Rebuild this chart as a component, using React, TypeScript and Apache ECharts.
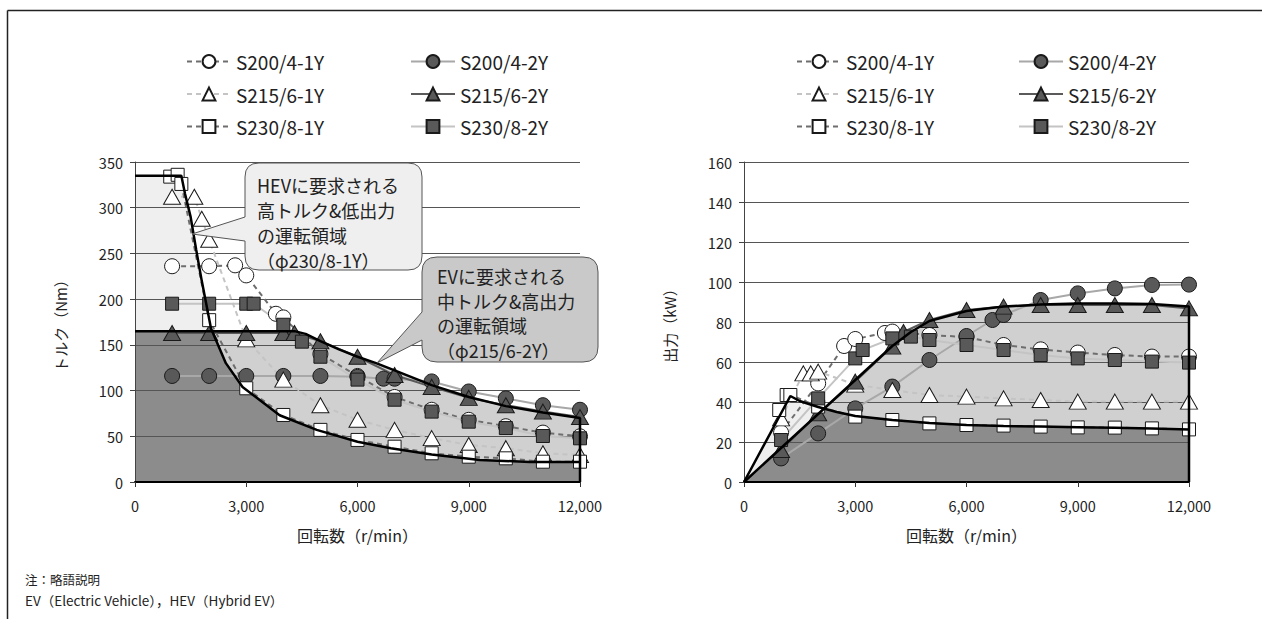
import React, { useEffect, useRef } from "react";
import * as echarts from "echarts";

const FONT = "'Noto Sans CJK JP', 'Noto Sans', sans-serif";

// ---- tick / axis settings ----
const rpmTicks = [0, 3000, 6000, 9000, 12000];
const torqueMax = 350;
const powerMax = 160;

// ---- series names ----
const names = ["S200/4-1Y", "S200/4-2Y", "S215/6-1Y", "S215/6-2Y", "S230/8-1Y", "S230/8-2Y"];

// ---- S200/4-1Y ----
const s200_1Y_rpm = [1000, 2000, 2700, 3000, 3800, 4000, 5000, 6000, 7000, 8000, 9000, 10000, 11000, 12000];
const s200_1Y_torque = [236, 236, 237, 226, 184, 180, 140, 116, 93, 79, 68, 61, 54, 50];
const s200_1Y_power = [24.7, 49.3, 68, 71.5, 74.5, 75.2, 73.5, 72.5, 68.5, 66.3, 64.7, 63.5, 62.7, 62.7];

// ---- S200/4-2Y ----
const s200_2Y_rpm = [1000, 2000, 3000, 4000, 5000, 6000, 6700, 7000, 8000, 9000, 10000, 11000, 12000];
const s200_2Y_torque = [116, 116, 116, 116, 116, 115, 113, 113, 110, 99, 91.5, 84, 79];
const s200_2Y_power = [11.8, 24.3, 36.8, 47.7, 61, 73, 81, 83.5, 91, 94.3, 96.8, 98.5, 98.7];

// ---- S215/6-1Y ----
const s215_1Y_rpm = [1000, 1600, 1800, 2000, 3000, 4000, 5000, 6000, 7000, 8000, 9000, 10000, 11000, 12000];
const s215_1Y_torque = [312, 312, 288, 265, 156, 112, 84, 68, 57, 48, 40.5, 37, 31.5, 29.5];
const s215_1Y_power = [31.8, 54.3, 54.3, 55.2, 48.7, 46, 43.5, 42.7, 41.8, 41, 40.2, 40.2, 40.2, 40.2];

// ---- S215/6-2Y ----
const s215_2Y_rpm = [1000, 2000, 3000, 4000, 4300, 5000, 6000, 7000, 8000, 9000, 10000, 11000, 12000];
const s215_2Y_torque = [163, 163, 163, 163, 163, 154, 137, 117, 104, 92, 84, 77, 71];
const s215_2Y_power = [16, 34.3, 50.2, 67.7, 75, 81, 86, 87.7, 88.5, 88.5, 88.5, 88.5, 86.8];

// ---- S230/8-1Y ----
const s230_1Y_rpm = [950, 1150, 1250, 2000, 3000, 4000, 5000, 6000, 7000, 8000, 9000, 10000, 11000, 12000];
const s230_1Y_torque = [334, 336, 326, 177, 102.5, 73.3, 57, 46, 38.6, 31.4, 27.7, 25.9, 22.2, 22.2];
const s230_1Y_power = [36, 43.5, 43.5, 37.7, 32.7, 31, 29.3, 28.5, 28.2, 27.7, 27.3, 27.2, 26.8, 26.3];

// ---- S230/8-2Y ----
const s230_2Y_rpm = [1000, 2000, 3000, 3200, 4000, 4500, 5000, 6000, 7000, 8000, 9000, 10000, 11000, 12000];
const s230_2Y_torque = [195, 195, 195, 195, 172, 153.5, 137, 112, 90, 77, 66, 59, 50.3, 47.8];
const s230_2Y_power = [21, 41.8, 61.8, 66, 71.8, 72.7, 71, 68.5, 66, 63.5, 61.8, 61, 60.2, 59.7];

// ---- operating-region envelopes (torque chart) ----
const hevTorqueRpm = [0, 1250, 1350, 1500, 1650, 1800, 2050, 2450, 2900, 3900, 4900, 6000, 6900, 8000, 9300, 10650, 12000];
const hevTorque = [335, 335, 315, 290, 254, 220, 168, 130, 104, 73, 57, 44, 37, 30, 24, 22, 22];
const evTorqueRpm = [0, 4300, 4600, 5000, 5500, 6000, 6500, 7000, 8000, 9000, 10000, 11000, 12000, 12000];
const evTorque = [165, 165, 162, 154, 145, 137, 130, 122, 106, 93, 83, 76, 70, 0];
const bothTorqueRpm = [0, 2080, 2450, 2900, 3900, 4900, 6000, 6900, 8000, 9300, 10650, 12000];
const bothTorque = [165, 165, 130, 104, 73, 57, 44, 37, 30, 24, 22, 22];

// ---- operating-region envelopes (power chart) ----
const hevPowerRpm = [0, 1250, 1500, 2000, 2500, 3000, 4000, 5000, 6000, 7000, 8000, 9000, 10000, 11000, 12000];
const hevPower = [0, 43, 40.5, 37.5, 35, 33, 31, 29.5, 28.5, 28, 27.7, 27.4, 27.1, 26.8, 26.3];
const evPowerRpm = [0, 1000, 2000, 3000, 4000, 4500, 5000, 6000, 7000, 8000, 9000, 10000, 11000, 12000, 12000];
const evPower = [0, 17, 34, 51, 68, 75, 80.5, 85.5, 87.7, 88.7, 89.2, 89.3, 89, 87.7, 0];
const bothPowerRpm = [0, 2150, 2500, 3000, 4000, 5000, 6000, 7000, 8000, 9000, 10000, 11000, 12000];
const bothPower = [0, 36.8, 35, 33, 31, 29.5, 28.5, 28, 27.7, 27.4, 27.1, 26.8, 26.3];

const pairs = (xs: number[], ys: number[]) => xs.map((x, i) => [x, ys[i]]);

// speech-bubble outlines for the annotations
echarts.graphic.registerShape(
  "hevBubble",
  echarts.graphic.extendPath(
    "M259,163 H408 Q422,163 422,177 V256 Q422,270 408,270 H259 Q245,270 245,256 V241 L192,234 L245,217 V177 Q245,163 259,163 Z",
    {}
  )
);
echarts.graphic.registerShape(
  "evBubble",
  echarts.graphic.extendPath(
    "M437,257 H583 Q598,257 598,272 V347 Q598,362 583,362 H437 Q422,362 422,347 V340 L377,363 L422,312 V272 Q422,257 437,257 Z",
    {}
  )
);

const DARK = "#595959";

const styles: Record<string, any> = {
  "S200/4-1Y": { symbol: "circle", symbolSize: 15, fill: "#ffffff", line: { color: "#6e6e6e", type: [5, 4], width: 2 } },
  "S200/4-2Y": { symbol: "circle", symbolSize: 15, fill: DARK, line: { color: "#a8a8a8", type: "solid", width: 2 } },
  "S215/6-1Y": { symbol: "triangle", symbolSize: [17, 15], fill: "#ffffff", line: { color: "#c4c4c4", type: [5, 4], width: 2 } },
  "S215/6-2Y": { symbol: "triangle", symbolSize: [17, 15], fill: DARK, line: { color: "#5a5a5a", type: "solid", width: 2 } },
  "S230/8-1Y": { symbol: "rect", symbolSize: 13, fill: "#ffffff", line: { color: "#6e6e6e", type: [5, 4], width: 2 } },
  "S230/8-2Y": { symbol: "rect", symbolSize: 13, fill: DARK, line: { color: "#c4c4c4", type: "solid", width: 2 } },
};

const torqueData: Record<string, number[][]> = {
  "S200/4-1Y": pairs(s200_1Y_rpm, s200_1Y_torque),
  "S200/4-2Y": pairs(s200_2Y_rpm, s200_2Y_torque),
  "S215/6-1Y": pairs(s215_1Y_rpm, s215_1Y_torque),
  "S215/6-2Y": pairs(s215_2Y_rpm, s215_2Y_torque),
  "S230/8-1Y": pairs(s230_1Y_rpm, s230_1Y_torque),
  "S230/8-2Y": pairs(s230_2Y_rpm, s230_2Y_torque),
};
const powerData: Record<string, number[][]> = {
  "S200/4-1Y": pairs(s200_1Y_rpm, s200_1Y_power),
  "S200/4-2Y": pairs(s200_2Y_rpm, s200_2Y_power),
  "S215/6-1Y": pairs(s215_1Y_rpm, s215_1Y_power),
  "S215/6-2Y": pairs(s215_2Y_rpm, s215_2Y_power),
  "S230/8-1Y": pairs(s230_1Y_rpm, s230_1Y_power),
  "S230/8-2Y": pairs(s230_2Y_rpm, s230_2Y_power),
};

function markerSeries(name: string, data: number[][], idx: number) {
  const s = styles[name];
  return {
    type: "line",
    name,
    xAxisIndex: idx,
    yAxisIndex: idx,
    data,
    symbol: s.symbol,
    symbolSize: s.symbolSize,
    showSymbol: true,
    lineStyle: s.line,
    itemStyle: { color: s.fill, borderColor: "#1a1a1a", borderWidth: 1 },
    z: 3,
    silent: true,
  };
}

function areaSeries(data: number[][], idx: number, color: string, z: number) {
  return {
    type: "line",
    xAxisIndex: idx,
    yAxisIndex: idx,
    data,
    symbol: "none",
    lineStyle: { opacity: 0, width: 0 },
    areaStyle: { color, opacity: 1 },
    z,
    silent: true,
  };
}

function edgeSeries(data: number[][], idx: number) {
  return {
    type: "line",
    xAxisIndex: idx,
    yAxisIndex: idx,
    data,
    symbol: "none",
    lineStyle: { color: "#000000", width: 2.5 },
    z: 4,
    silent: true,
  };
}

const fmt = (v: number) => v.toLocaleString("en-US");

function xAxis(idx: number) {
  return {
    type: "value",
    gridIndex: idx,
    min: rpmTicks[0],
    max: rpmTicks[rpmTicks.length - 1],
    interval: rpmTicks[1] - rpmTicks[0],
    name: "回転数（r/min）",
    nameLocation: "middle",
    nameGap: 45,
    nameTextStyle: { fontFamily: FONT, fontSize: 16, color: "#222" },
    axisLine: { show: true, lineStyle: { color: "#000", width: 2 } },
    axisTick: { show: true, length: 5, lineStyle: { color: "#333", width: 1 } },
    axisLabel: { fontFamily: FONT, fontSize: 14.5, color: "#222", margin: 16, formatter: fmt },
    splitLine: { show: false },
    z: 2,
  };
}

function yAxis(idx: number, max: number, interval: number, name: string) {
  return {
    type: "value",
    gridIndex: idx,
    min: 0,
    max,
    interval,
    name,
    nameLocation: "middle",
    nameGap: 67,
    nameTextStyle: { fontFamily: FONT, fontSize: 15, color: "#222" },
    axisLine: { show: true, lineStyle: { color: "#444", width: 1 } },
    axisTick: { show: true, length: 5, lineStyle: { color: "#444", width: 1 } },
    axisLabel: { fontFamily: FONT, fontSize: 14.5, color: "#222", margin: 12 },
    splitLine: { show: true, lineStyle: { color: "#555", width: 1 } },
    z: 2,
  };
}

function legend(left: number, data: string[]) {
  return {
    data,
    orient: "vertical",
    left,
    top: 47,
    itemWidth: 44,
    itemHeight: 16,
    itemGap: 13.5,
    selectedMode: false,
    textStyle: { fontFamily: FONT, fontSize: 19, color: "#222", padding: [0, 0, 0, 0] },
  };
}

export default function App() {
  const ref = useRef<HTMLDivElement>(null);

  useEffect(() => {
    if (!ref.current) return;
    const chart = echarts.init(ref.current, undefined, { renderer: "svg" });
    const col1 = [names[0], names[2], names[4]];
    const col2 = [names[1], names[3], names[5]];

    const series: any[] = [
      areaSeries(pairs(hevTorqueRpm, hevTorque), 0, "#efefef", 1),
      areaSeries(pairs(evTorqueRpm, evTorque), 0, "#d0d0d0", 1),
      areaSeries(pairs(bothTorqueRpm, bothTorque), 0, "#8c8c8c", 1),
      areaSeries(pairs(hevPowerRpm, hevPower), 1, "#efefef", 1),
      areaSeries(pairs(evPowerRpm, evPower), 1, "#d0d0d0", 1),
      areaSeries(pairs(bothPowerRpm, bothPower), 1, "#8c8c8c", 1),
      ...names.map((n) => markerSeries(n, torqueData[n], 0)),
      ...names.map((n) => markerSeries(n, powerData[n], 1)),
      edgeSeries(pairs(hevTorqueRpm, hevTorque), 0),
      edgeSeries(pairs(evTorqueRpm, evTorque), 0),
      edgeSeries(pairs(hevPowerRpm, hevPower), 1),
      edgeSeries(pairs(evPowerRpm, evPower), 1),
    ];

    chart.setOption({
      animation: false,
      backgroundColor: "#ffffff",
      textStyle: { fontFamily: FONT },
      grid: [
        { left: 135, top: 162, width: 445, height: 320 },
        { left: 744, top: 162, width: 445, height: 320 },
      ],
      xAxis: [xAxis(0), xAxis(1)],
      yAxis: [
        yAxis(0, torqueMax, 50, "トルク（Nm）"),
        yAxis(1, powerMax, 20, "出力（kW）"),
      ],
      legend: [legend(181, col1), legend(405, col2), legend(791, col1), legend(1013, col2)],
      series,
      graphic: [
        { type: "line", z: 20, shape: { x1: 7.5, y1: 10.5, x2: 1262, y2: 10.5 }, style: { stroke: "#222", lineWidth: 1.5 } },
        { type: "line", z: 20, shape: { x1: 7.5, y1: 10.5, x2: 7.5, y2: 619 }, style: { stroke: "#222", lineWidth: 1.5 } },
        { type: "hevBubble", z: 20, x: 0, y: 0, style: { fill: "#efefef", stroke: "#555", lineWidth: 1 } },
        { type: "evBubble", z: 20, x: 0, y: 0, style: { fill: "#c9c9c9", stroke: "#555", lineWidth: 1 } },
        {
          type: "text",
          z: 21,
          x: 257,
          y: 172,
          style: {
            text: "HEVに要求される\n高トルク&低出力\nの運転領域\n（φ230/8-1Y）",
            fontFamily: FONT,
            fontSize: 18,
            lineHeight: 25,
            fill: "#222",
          },
        },
        {
          type: "text",
          z: 21,
          x: 437,
          y: 264,
          style: {
            text: "EVに要求される\n中トルク&高出力\nの運転領域\n（φ215/6-2Y）",
            fontFamily: FONT,
            fontSize: 18,
            lineHeight: 24.5,
            fill: "#222",
          },
        },
        {
          type: "text",
          z: 21,
          x: 25,
          y: 573,
          style: { text: "注：略語説明", fontFamily: FONT, fontSize: 12.5, fill: "#222" },
        },
        {
          type: "text",
          z: 21,
          x: 25,
          y: 593,
          style: { text: "EV（Electric Vehicle），HEV（Hybrid EV）", fontFamily: FONT, fontSize: 13.5, fill: "#222" },
        },
      ],
    });

    return () => chart.dispose();
  }, []);

  return (
    <div
      ref={ref}
      style={{ position: "fixed", left: 0, top: 0, width: 1262, height: 619, background: "#fff" }}
    />
  );
}
